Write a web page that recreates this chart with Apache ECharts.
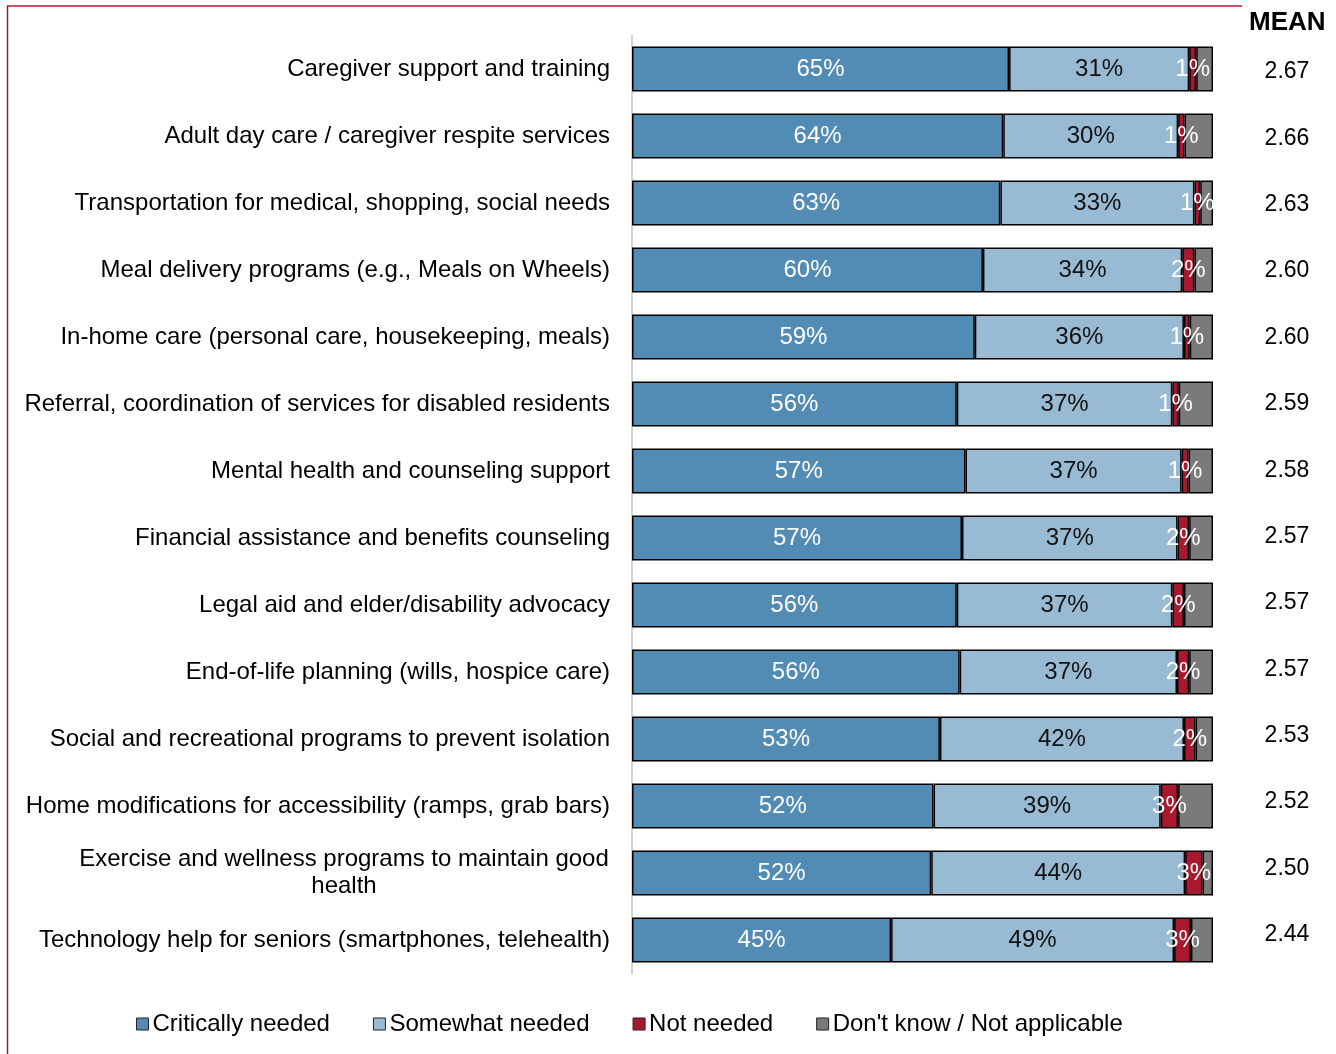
<!DOCTYPE html>
<html>
<head>
<meta charset="utf-8">
<script src="https://cdn.jsdelivr.net/npm/echarts@6/dist/echarts.min.js"></script>
<style>
  html, body { margin: 0; padding: 0; background: #ffffff; }
  #chart { width: 1336px; height: 1054px; }
</style>
</head>
<body>
<div id="chart"></div>
<script>
// Survey: perceived need for senior / disability services (share of respondents, %)
const categories = [
  'Caregiver support and training',
  'Adult day care / caregiver respite services',
  'Transportation for medical, shopping, social needs',
  'Meal delivery programs (e.g., Meals on Wheels)',
  'In-home care (personal care, housekeeping, meals)',
  'Referral, coordination of services for disabled residents',
  'Mental health and counseling support',
  'Financial assistance and benefits counseling',
  'Legal aid and elder/disability advocacy',
  'End-of-life planning (wills, hospice care)',
  'Social and recreational programs to prevent isolation',
  'Home modifications for accessibility (ramps, grab bars)',
  'Exercise and wellness programs to maintain good\nhealth',
  'Technology help for seniors (smartphones, telehealth)'
];
const critically = [64.9, 63.9, 63.4, 60.4, 59.0, 55.9, 57.4, 56.8, 55.9, 56.4, 53.0, 51.9, 51.5, 44.6];
const somewhat   = [31.0, 30.1, 33.4, 34.3, 36.0, 37.1, 37.2, 37.1, 37.1, 37.4, 42.0, 39.1, 43.7, 48.7];
const notNeeded  = [1.2, 1.1, 1.0, 2.1, 1.0, 1.1, 1.2, 2.0, 2.0, 2.1, 2.0, 3.0, 3.0, 2.9];
const dontKnow   = [2.9, 4.9, 2.2, 3.2, 4.0, 5.9, 4.2, 4.1, 5.0, 4.1, 3.0, 6.0, 1.8, 3.8];
const means      = [2.67, 2.66, 2.63, 2.60, 2.60, 2.59, 2.58, 2.57, 2.57, 2.57, 2.53, 2.52, 2.50, 2.44];
const seriesNames = ['Critically needed', 'Somewhat needed', 'Not needed', "Don't know / Not applicable"];

const FONT = "'Liberation Sans', Arial, Helvetica, sans-serif";
const COLORS = ['#528cb4', '#98bbd3', '#a8192f', '#7a7a7a'];

// width of the widest line of a wrapped category label, so its lines can be centred
const ctx = document.createElement('canvas').getContext('2d');
ctx.font = '24px ' + FONT;
function lineWidth(s) { return Math.ceil(ctx.measureText(s).width) + 2; }

function categoryLabel(v) {
  const lines = v.split('\n');
  if (lines.length === 1) return v;
  return lines.map(l => '{c|' + l + '}').join('\n');
}
const wrapWidth = Math.max(...categories.filter(c => c.includes('\n'))
  .flatMap(c => c.split('\n')).map(lineWidth));

const pct = p => Math.round(p.value) + '%';

function barSeries(name, data, idx, labelColor, showLabel) {
  return {
    name: name,
    type: 'bar',
    stack: 'total',
    xAxisIndex: 0,
    yAxisIndex: 0,
    barWidth: 45,
    data: data,
    itemStyle: { color: COLORS[idx], borderColor: '#000', borderWidth: 1.5 },
    label: {
      show: showLabel,
      position: 'inside',
      formatter: pct,
      color: labelColor,
      fontFamily: FONT,
      fontSize: 24
    },
    emphasis: { disabled: true },
    animation: false
  };
}

const chart = echarts.init(document.getElementById('chart'), null, { renderer: 'canvas' });
chart.setOption({
  backgroundColor: '#ffffff',
  animation: false,
  title: {
    text: 'MEAN',
    left: 1249,
    top: 10,
    padding: 0,
    textStyle: { fontFamily: FONT, fontSize: 26, fontWeight: 'bold', color: '#000' }
  },
  legend: {
    data: seriesNames,
    left: 136,
    top: 1012,
    itemWidth: 12,
    itemHeight: 12,
    itemGap: 43,
    padding: 0,
    icon: 'rect',
    itemStyle: { borderColor: '#222', borderWidth: 1 },
    textStyle: { fontFamily: FONT, fontSize: 24, color: '#000', padding: [0, 0, 0, -1] },
    selectedMode: false
  },
  grid: [
    { left: 632, right: 123, top: 35.5, height: 938 },
    { left: 1287, width: 10, top: 38.8, height: 929.3 }
  ],
  xAxis: [
    { type: 'value', gridIndex: 0, min: 0, max: 100, show: false },
    { type: 'value', gridIndex: 1, min: 0, max: 1, show: false }
  ],
  yAxis: [
    {
      type: 'category',
      gridIndex: 0,
      inverse: true,
      data: categories,
      axisTick: { show: false },
      axisLine: { show: true, lineStyle: { color: '#d4d4d4', width: 2 } },
      axisLabel: {
        margin: 22,
        fontFamily: FONT,
        fontSize: 24,
        color: '#000',
        lineHeight: 27,
        formatter: categoryLabel,
        rich: { c: { width: wrapWidth, align: 'center', fontFamily: FONT, fontSize: 24, color: '#000', lineHeight: 27 } }
      }
    },
    {
      type: 'category',
      gridIndex: 1,
      inverse: true,
      data: means.map(m => m.toFixed(2)),
      axisTick: { show: false },
      axisLine: { show: false },
      axisLabel: { margin: 0, align: 'center', fontFamily: FONT, fontSize: 23, color: '#000' }
    }
  ],
  series: [
    barSeries(seriesNames[0], critically, 0, '#ffffff', true),
    barSeries(seriesNames[1], somewhat, 1, '#111111', true),
    barSeries(seriesNames[2], notNeeded, 2, '#ffffff', true),
    barSeries(seriesNames[3], dontKnow, 3, '#ffffff', false)
  ],
  graphic: [
    { type: 'line', shape: { x1: 7, y1: 6, x2: 1242, y2: 6 }, style: { stroke: '#c0152f', lineWidth: 1.5 }, silent: true },
    { type: 'line', shape: { x1: 7.5, y1: 6, x2: 7.5, y2: 1054 }, style: { stroke: '#8e2232', lineWidth: 1.5 }, silent: true }
  ]
});
</script>
</body>
</html>
